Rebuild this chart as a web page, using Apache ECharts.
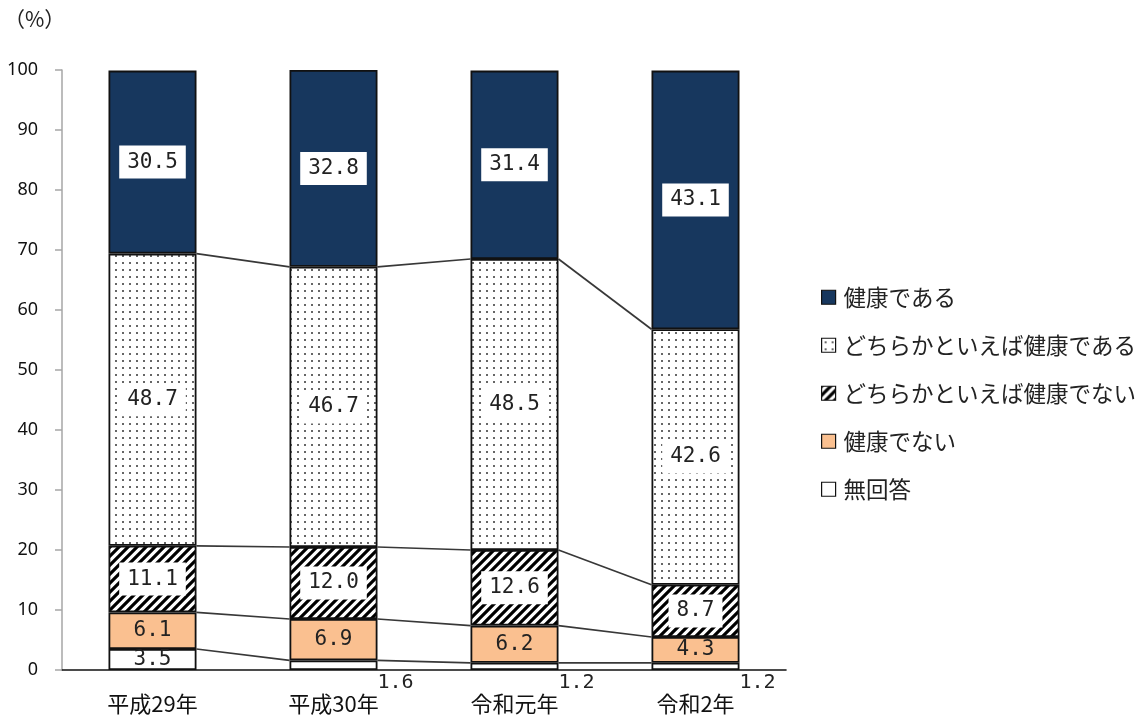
<!DOCTYPE html>
<html>
<head>
<meta charset="utf-8">
<script src="https://cdn.jsdelivr.net/npm/echarts@6/dist/echarts.min.js"></script>
<style>
  html, body { margin: 0; padding: 0; background: #fff; }
  #chart { width: 1144px; height: 720px; }
</style>
</head>
<body>
<div id="chart"></div>
<script>
// Survey years and share (%) of each self-rated health answer
const categories = ['平成29年', '平成30年', '令和元年', '令和2年'];
const healthy         = [30.5, 32.8, 31.4, 43.1];
const fairlyHealthy   = [48.7, 46.7, 48.5, 42.6];
const fairlyUnhealthy = [11.1, 12.0, 12.6, 8.7];
const unhealthy       = [6.1, 6.9, 6.2, 4.3];
const noAnswer        = [3.5, 1.6, 1.2, 1.2];
const seriesNames = ['健康である', 'どちらかといえば健康である', 'どちらかといえば健康でない', '健康でない', '無回答'];
const yMin = 0, yMax = 100, yStep = 10;

const BAR_W = 88;
const NUM_FONT = '"DejaVu Sans Mono", "Liberation Mono", monospace';
const JP_FONT = '"Noto Sans CJK JP", "Noto Sans", sans-serif';

// Fill patterns
function dotPattern() {
  const c = document.createElement('canvas');
  c.width = 7; c.height = 7;
  const g = c.getContext('2d');
  g.fillStyle = '#fff'; g.fillRect(0, 0, 7, 7);
  g.fillStyle = '#666'; g.fillRect(3, 3, 2, 2);
  return c;
}
function hatchPattern() {
  const s = 9;
  const c = document.createElement('canvas');
  c.width = s; c.height = s;
  const g = c.getContext('2d');
  g.fillStyle = '#fff'; g.fillRect(0, 0, s, s);
  g.strokeStyle = '#000'; g.lineWidth = 3.2;
  g.beginPath();
  g.moveTo(-1, s + 1); g.lineTo(s + 1, -1);
  g.moveTo(-2, 2); g.lineTo(2, -2);
  g.moveTo(s - 2, s + 2); g.lineTo(s + 2, s - 2);
  g.stroke();
  return c;
}

const boxLabel = {
  show: true, position: 'inside',
  formatter: p => Number(p.value).toFixed(1),
  color: '#222', fontFamily: NUM_FONT, fontSize: 21,
  backgroundColor: '#fff', padding: [7, 8, 5, 8]
};
const plainLabel = Object.assign({}, boxLabel, { backgroundColor: 'transparent', padding: 0 });

const border = { borderColor: '#111', borderWidth: 1.8 };

// Cumulative tops of each stacked segment (bottom to the top of the dotted band)
const cum = categories.map((_, i) => {
  let s = 0;
  return [noAnswer, unhealthy, fairlyUnhealthy, fairlyHealthy].map(a => (s += a[i]));
});

const noAnswerData = noAnswer.map((v, i) => i === 0
  ? { value: v }
  : { value: v, label: { position: ['100%', '100%'], offset: [0, 3], align: 'left', verticalAlign: 'top', fontSize: 20 } });

const option = {
  animation: false,
  backgroundColor: '#fff',
  graphic: [{
    type: 'text', left: 4, top: 9,
    style: { text: '（%）', fontSize: 21, fontFamily: JP_FONT, fill: '#222' }
  }],
  legend: {
    data: seriesNames,
    orient: 'vertical',
    left: 821, top: 286, padding: 0,
    itemWidth: 14, itemHeight: 14, itemGap: 25.5,
    icon: 'rect',
    itemStyle: { borderColor: '#111', borderWidth: 1.2 },
    textStyle: { fontFamily: JP_FONT, fontSize: 22.5, color: '#222', padding: [0, 0, 0, 3] }
  },
  grid: { left: 62, right: 358, top: 70, bottom: 50 },
  xAxis: {
    type: 'category', data: categories,
    axisLine: { lineStyle: { color: '#111', width: 1.6 } },
    axisTick: { show: false },
    axisLabel: { fontFamily: JP_FONT, fontSize: 22, color: '#111', margin: 23 }
  },
  yAxis: {
    type: 'value', min: yMin, max: yMax, interval: yStep,
    axisLine: { show: true, lineStyle: { color: '#a6a6a6', width: 1.5 } },
    axisTick: { show: true, length: 7, lineStyle: { color: '#a6a6a6', width: 1.5 } },
    splitLine: { show: false },
    axisLabel: { fontFamily: '"Noto Sans", sans-serif', fontSize: 18, color: '#111', margin: 24 }
  },
  series: [
    { name: '無回答', type: 'bar', stack: 't', barWidth: BAR_W, data: noAnswerData,
      itemStyle: Object.assign({ color: '#fff' }, border), label: plainLabel, z: 3 },
    { name: '健康でない', type: 'bar', stack: 't', data: unhealthy,
      itemStyle: Object.assign({ color: '#fac090' }, border), label: plainLabel, z: 3 },
    { name: 'どちらかといえば健康でない', type: 'bar', stack: 't', data: fairlyUnhealthy,
      itemStyle: Object.assign({ color: { image: hatchPattern(), repeat: 'repeat' } }, border), label: boxLabel, z: 3 },
    { name: 'どちらかといえば健康である', type: 'bar', stack: 't', data: fairlyHealthy,
      itemStyle: Object.assign({ color: { image: dotPattern(), repeat: 'repeat' } }, border), label: boxLabel, z: 3 },
    { name: '健康である', type: 'bar', stack: 't', data: healthy,
      itemStyle: Object.assign({ color: '#17375e' }, border), label: boxLabel, z: 3 },
    {
      type: 'custom', silent: true, z: 2,
      data: categories.slice(0, -1).map((_, i) => [i, 0]),
      encode: { x: 0, y: 1 },
      renderItem(params, api) {
        const i = api.value(0);
        const children = cum[i].map((v, k) => {
          const a = api.coord([i, v]);
          const b = api.coord([i + 1, cum[i + 1][k]]);
          return {
            type: 'line',
            shape: { x1: a[0] + BAR_W / 2, y1: a[1], x2: b[0] - BAR_W / 2, y2: b[1] },
            style: { stroke: '#383838', lineWidth: 1.7 }
          };
        });
        return { type: 'group', children };
      }
    }
  ]
};

echarts.init(document.getElementById('chart')).setOption(option);
</script>
</body>
</html>
